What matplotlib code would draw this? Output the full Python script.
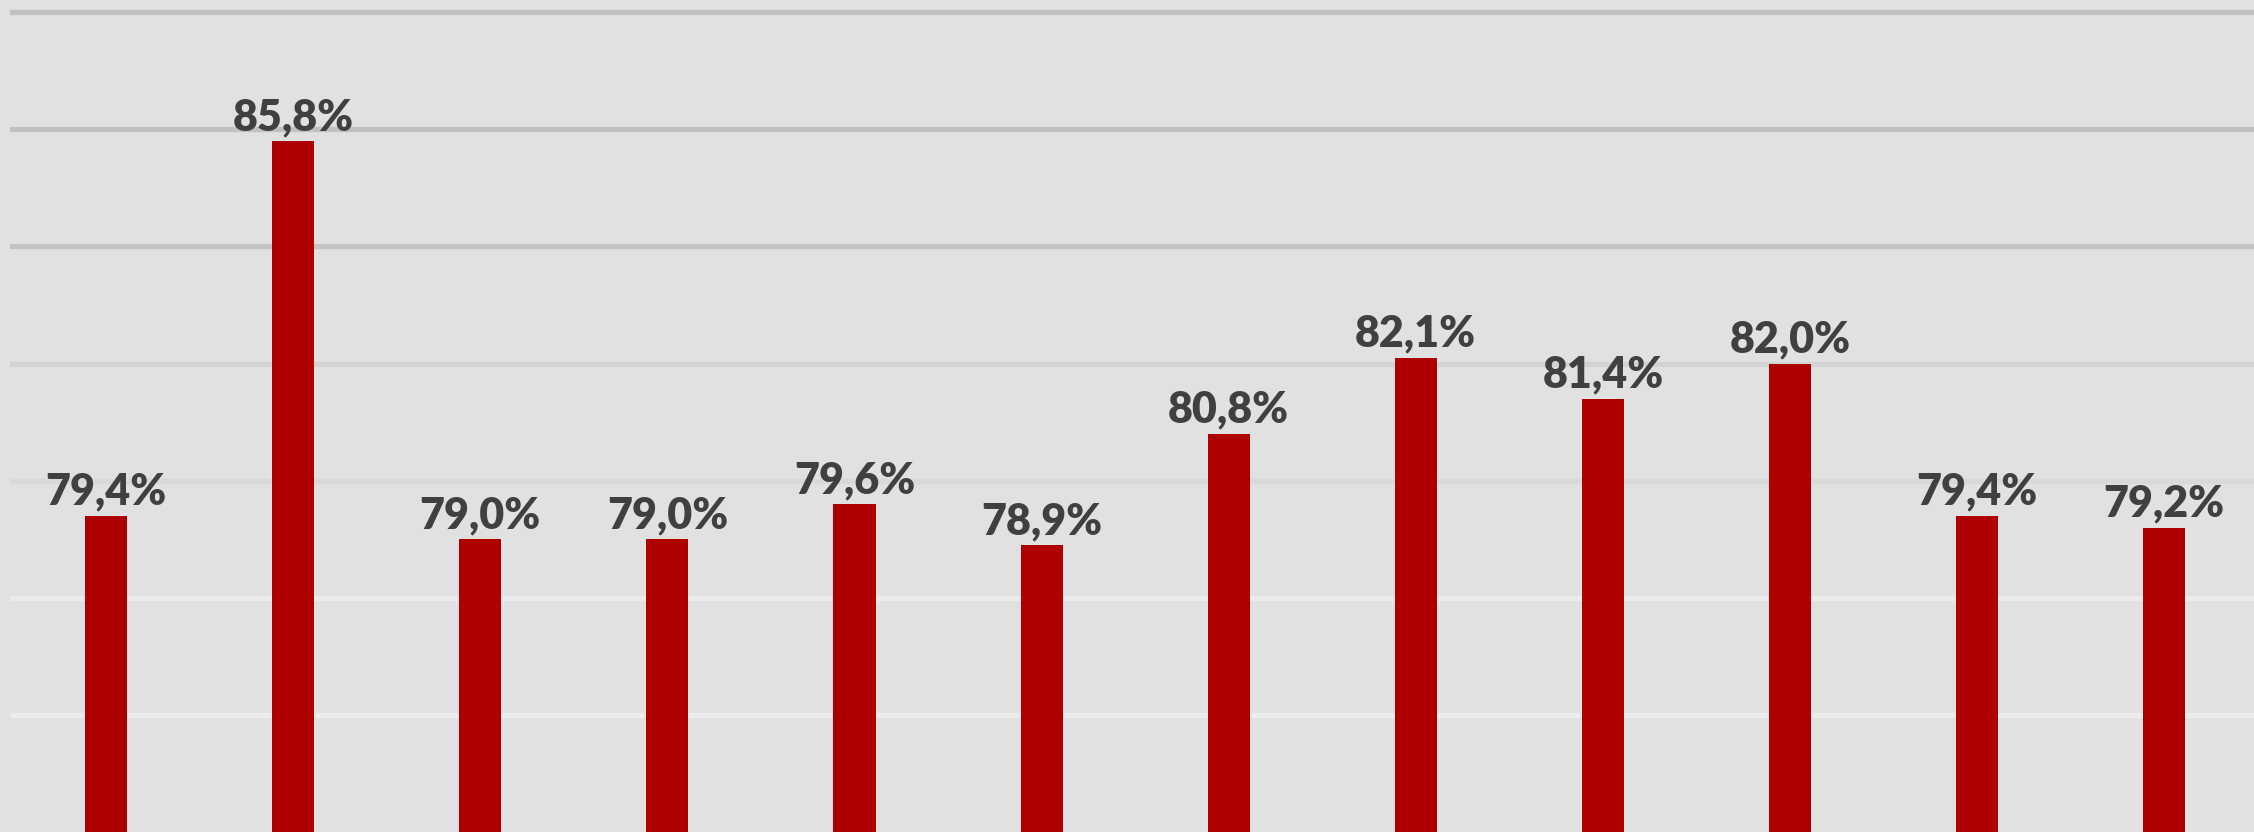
import matplotlib
matplotlib.use("Agg")
import matplotlib.pyplot as plt

categories = list(range(12))
values = [79.4, 85.8, 79.0, 79.0, 79.6, 78.9, 80.8, 82.1, 81.4, 82.0, 79.4, 79.2]
labels = ["79,4%", "85,8%", "79,0%", "79,0%", "79,6%", "78,9%",
          "80,8%", "82,1%", "81,4%", "82,0%", "79,4%", "79,2%"]
grid_values = [76, 78, 80, 82, 84, 86, 88]
grid_colors = ["#ececec", "#ebebeb", "#d9d9d9", "#d3d3d3", "#c4c4c4", "#c1c1c1", "#c1c1c1"]

W, H = 2254, 832
fig = plt.figure(figsize=(W / 100, H / 100), dpi=100)
bg = "#e1e1e1"
fig.patch.set_facecolor(bg)
ax = fig.add_axes([0, 0, 1, 1])
ax.set_facecolor(bg)

ax.set_xlim(-0.567, 11.48)
ax.set_ylim(74, 88.21)

for gv, gc in zip(grid_values, grid_colors):
    ax.axhline(gv, xmin=12 / W, xmax=1, color=gc, lw=3.8, zorder=1)

bars = ax.bar(categories, values, width=0.225, bottom=0, color="#ae0000", zorder=2)

for x, v, lab in zip(categories, values, labels):
    ax.annotate(lab, (x, v), xytext=(0, 3), textcoords="offset points",
                ha="center", va="bottom", fontsize=31, fontweight="heavy",
                color="#404040", family=["Lato", "DejaVu Sans"], zorder=3)

for s in ax.spines.values():
    s.set_visible(False)
ax.set_xticks([])
ax.set_yticks([])

fig.savefig("out.png", dpi=100, facecolor=bg)
